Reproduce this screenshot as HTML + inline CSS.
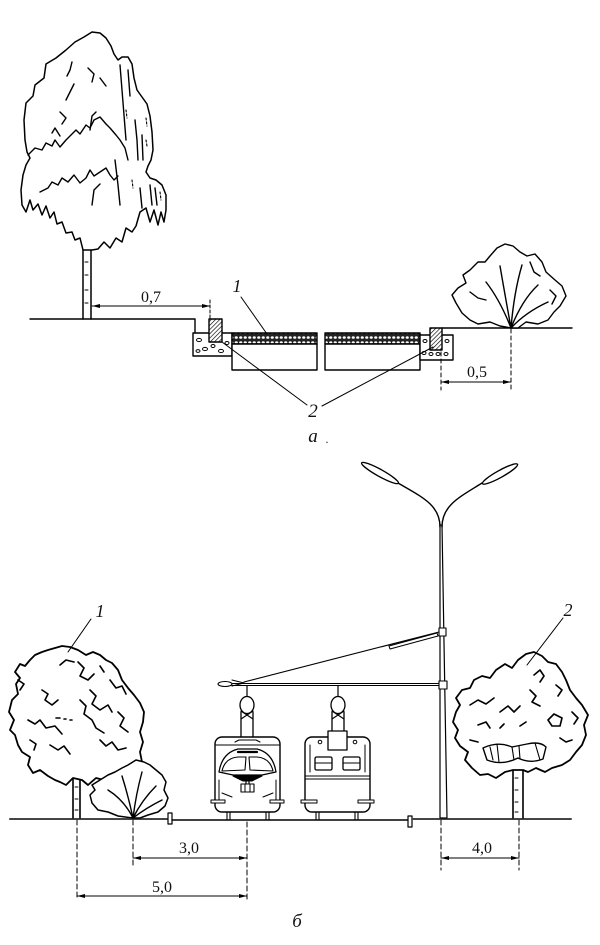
<!DOCTYPE html>
<html><head><meta charset="utf-8"><style>
html,body{margin:0;padding:0;background:#fff;}
svg{display:block;}
text{font-family:"Liberation Serif","DejaVu Serif",serif;fill:#111;}
.it{font-style:italic;}
</style></head><body>
<svg width="600" height="945" viewBox="0 0 600 945" xmlns="http://www.w3.org/2000/svg">
<defs>
<pattern id="hatch" width="3" height="3" patternUnits="userSpaceOnUse" patternTransform="rotate(45)">
<rect width="3" height="3" fill="#fff"/><line x1="0" y1="0" x2="0" y2="3" stroke="#000" stroke-width="1.3"/>
</pattern>
<pattern id="pave" width="4.5" height="5" patternUnits="userSpaceOnUse">
<rect width="4.5" height="5" fill="#222"/><ellipse cx="2.25" cy="2.5" rx="1.6" ry="1.3" fill="#fff"/>
</pattern>
</defs>
<g fill="none" stroke="#000" stroke-width="1.4" stroke-linejoin="round" stroke-linecap="round">

<!-- ===== TOP: birch tree ===== -->
<path fill="#fff" stroke-width="1.5" d="M83,250 L80,238 L75,240 L72,232 L66,233 L62,222 L57,224 L54,212 L50,218 L46,206 L42,215 L38,204 L33,210 L30,200 L26,212 L22,205 L21,190 L23,175 L26,165 L30,158 L27,152 L25,140 L24,120 L26,103 L33,96 L35,85 L44,78 L46,64 L56,58 L66,50 L75,42 L84,37 L92,32 L100,33 L106,38 L111,46 L114,54 L118,60 L122,57 L128,57 L132,64 L134,78 L137,90 L142,97 L147,104 L150,116 L152,132 L153,150 L151,160 L148,166 L146,172 L150,178 L156,180 L162,185 L166,195 L166,210 L164,222 L161,212 L158,225 L154,210 L150,222 L146,208 L140,212 L136,226 L132,232 L126,228 L122,242 L116,238 L110,248 L104,242 L98,249 L92,250 Z"/>
<path d="M28,155 L35,148 L42,150 L46,143 L52,146 L55,140 L60,147 L66,140 L72,134 L76,130 L80,134 L86,125 L90,128 L94,120 L100,117 L106,124 L110,128 L116,135 L120,140 L125,148 L128,160"/>
<path d="M40,192 L48,188 L52,182 L58,185 L62,178 L68,182 L74,175 L80,183 L86,178 L90,170 L94,176 L100,172 L106,168 L110,175 L114,180 L118,176"/>
<path d="M72,62 L70,70 L67,76 M66,100 L70,92 L74,84 M52,133 L55,128 L60,136 M90,130 L92,116 L96,112 M92,205 L94,190 L100,184 M120,65 L122,90 L124,115 L126,140 M128,70 L130,96 M135,120 L137,140 L138,160 M142,135 L143,160 M150,185 L152,205 M140,188 L142,208 M155,188 L157,205 M115,160 L118,185 L120,205 M88,68 L94,74 L92,82 M100,78 L106,86 M60,112 L66,118 L62,124"/>
<path d="M146,118 L147,126 M146,140 L147,146 M132,180 L133,188 M160,192 L161,200 M126,110 L127,118" stroke-width="1.1" stroke-dasharray="2,2"/>
<path d="M83,250 L83,319 M91,250 L91,319" stroke-width="1.5"/>
<path d="M85,262 L88,262 M85,275 L88,275 M85,290 L88,290 M85,303 L88,303" stroke-width="1"/>

<!-- ground and section -->
<path d="M30,319 L195,319 L195,333"/>
<rect x="193" y="333" width="39" height="23" fill="#fff"/>
<g stroke-width="1"><ellipse cx="199" cy="340" rx="2.5" ry="1.6"/><ellipse cx="205" cy="349" rx="2.5" ry="1.6"/><ellipse cx="213" cy="346" rx="2" ry="1.5"/><ellipse cx="221" cy="351" rx="2.5" ry="1.6"/><ellipse cx="227" cy="343" rx="2" ry="1.5"/><ellipse cx="198" cy="351" rx="2" ry="1.4"/></g>
<rect x="209" y="319" width="13" height="23" fill="url(#hatch)"/>
<rect x="232" y="333" width="85" height="11" fill="url(#pave)"/>
<rect x="232" y="344" width="85" height="26" fill="#fff"/>
<rect x="325" y="333" width="95" height="11" fill="url(#pave)"/>
<rect x="325" y="344" width="95" height="26" fill="#fff"/>
<rect x="420" y="335" width="33" height="25" fill="#fff"/>
<g stroke-width="1"><ellipse cx="425" cy="341" rx="2" ry="1.5"/><ellipse cx="447" cy="341" rx="2" ry="1.5"/><ellipse cx="424" cy="353" rx="2" ry="1.5"/><ellipse cx="431" cy="354" rx="2" ry="1.5"/><ellipse cx="438" cy="354" rx="2" ry="1.5"/><ellipse cx="446" cy="354" rx="2" ry="1.5"/></g>
<rect x="430" y="328" width="12" height="22" fill="url(#hatch)"/>
<path d="M442,328 L572,328"/>

<!-- leaders top -->
<path d="M241,297 L267,334" stroke-width="1"/>
<path d="M307,405 L222,342 M322,406 L433,347" stroke-width="1"/>

<!-- dim 0,7 -->
<path d="M92,306 L210,306" stroke-width="1"/>
<path d="M210,300 L210,318" stroke-width="1" stroke-dasharray="3,2"/>
<!-- dim 0,5 -->
<path d="M441,382 L511,382" stroke-width="1"/>
<path d="M441,352 L441,390 M511,329 L511,390" stroke-width="1" stroke-dasharray="4,3"/>

<!-- top right bush -->
<path fill="#fff" d="M511,328 L500,326 L490,322 L478,324 L470,320 L462,313 L456,303 L452,295 L458,288 L466,283 L463,275 L470,270 L478,262 L485,262 L490,256 L497,248 L505,244 L513,246 L520,252 L527,256 L535,254 L542,262 L546,272 L555,280 L562,286 L566,296 L560,306 L554,312 L548,320 L538,324 L526,322 L518,328 Z"/>
<path d="M511,328 Q500,300 486,282 M511,328 Q505,295 500,266 M511,328 Q514,292 522,265 M511,328 Q522,300 538,285 M511,328 Q526,312 548,302 M470,292 L478,298 L486,300 M530,262 L534,272 L540,276 M550,290 L556,296 L552,304"/>

<!-- ===== BOTTOM ===== -->
<!-- ground -->
<path d="M10,819 L168,819" stroke="#444" stroke-width="2" stroke-dasharray="3,1"/>
<rect x="168" y="813" width="4" height="11" fill="#fff" stroke-width="1.2"/>
<path d="M172,820 L408,820"/>
<rect x="408" y="816" width="4" height="11" fill="#fff" stroke-width="1.2"/>
<path d="M412,819 L572,819" stroke="#444" stroke-width="2" stroke-dasharray="3,1"/>

<!-- tree 1 -->
<path d="M73,765 L73,818 M80,765 L80,818" stroke-width="1.6"/>
<path d="M75,775 L78,775 M75,787 L78,787 M75,799 L78,799 M75,810 L78,810" stroke-width="1"/>
<path fill="#fff" stroke-width="1.8" d="M73,778 L66,785 L60,782 L55,780 L48,776 L40,770 L33,773 L28,765 L30,757 L22,752 L18,745 L15,735 L10,730 L14,720 L9,712 L12,700 L18,694 L16,684 L20,678 L15,672 L20,664 L25,666 L30,660 L35,655 L42,652 L48,650 L55,648 L62,646 L70,647 L78,650 L86,655 L93,652 L100,655 L106,660 L112,663 L118,670 L122,680 L128,688 L134,695 L140,703 L144,712 L143,722 L140,732 L143,742 L140,752 L142,762 L136,766 L128,770 L120,775 L112,778 L104,780 L96,778 L88,785 L82,780 Z"/>
<path stroke-width="1.6" d="M42,690 L48,694 L45,700 L52,705 L58,700 M28,720 L35,724 L40,720 L46,728 L55,726 L62,734 M78,662 L84,668 L80,676 L88,680 L94,674 M90,690 L96,696 L92,704 L100,710 L108,705 L112,712 M80,700 L86,706 L84,714 L92,720 L96,728 L104,733 M100,740 L106,746 L112,742 L118,750 L126,748 M50,745 L58,750 L64,746 L70,754 M110,680 L116,688 L122,686 L126,694 M60,665 L66,660 L74,662 M18,680 L24,684 L20,690 M56,718 L60,718 M64,719 L66,719 M70,720 L72,720 M118,712 L124,718 L120,726 L128,732 M100,666 L104,672 M30,740 L36,744 L34,750"/>
<path d="M91,619 L68,652" stroke-width="1"/>
<!-- bush -->
<path fill="#fff" stroke-width="1.5" d="M133,818 L118,816 L108,812 L98,810 L92,803 L90,795 L95,790 L92,785 L100,780 L108,775 L115,772 L122,768 L128,765 L136,760 L144,762 L150,765 L156,770 L162,775 L166,782 L164,790 L168,798 L165,806 L158,812 L148,815 L140,818 Z"/>
<path d="M133,818 Q124,800 108,790 M133,818 Q128,795 122,776 M133,818 Q136,794 142,772 M133,818 Q142,800 156,786 M133,818 Q146,808 162,800"/>

<!-- dims bottom -->
<path d="M77,820 L77,899 M133,820 L133,866 M247,822 L247,899 M441,820 L441,870 M519,820 L519,870" stroke-width="1" stroke-dasharray="5,3"/>
<path d="M133,858 L247,858 M77,896 L247,896 M441,858 L519,858" stroke-width="1"/>

<!-- pole -->
<path fill="#fff" stroke-width="1.2" d="M440,525 L442,525 L447,818 L440,818 Z"/>
<rect x="439" y="628" width="7" height="8" fill="#fff" stroke-width="1.1"/>
<rect x="439" y="681" width="8" height="8" fill="#fff" stroke-width="1.1"/>
<path d="M440,527 C440,505 422,497 398,483 M442,527 C442,505 460,497 482,483" stroke-width="1.4"/>
<ellipse cx="380" cy="473" rx="21" ry="3.5" transform="rotate(29 380 473)" fill="#fff" stroke-width="1.4"/>
<ellipse cx="500" cy="474" rx="20" ry="3.5" transform="rotate(-29 500 474)" fill="#fff" stroke-width="1.4"/>

<!-- catenary -->
<path d="M232,683.5 L439,683.5 M232,685.5 L439,685.5" stroke-width="1"/>
<ellipse cx="225" cy="684" rx="7" ry="2.5" fill="#fff" stroke-width="1.1"/>
<path d="M232,680 L244,683 L232,686" stroke-width="1"/>
<path d="M244,682 L439,632" stroke-width="1.1"/>
<path d="M389,646 L437,633 L438,636 L390,649 Z" fill="#fff" stroke-width="1"/>

<!-- left tram -->
<path d="M247,686 L247,697 M338,686 L338,697" stroke-width="1.2"/>
<ellipse cx="247" cy="705" rx="7" ry="8.5" fill="#fff" stroke-width="1.3"/>
<path d="M241,711 L253,719 M253,711 L241,719" stroke-width="1.1"/>
<path d="M241,712 L241,737 M253,712 L253,737" stroke-width="1.3"/>
<rect x="215" y="737" width="65" height="75" rx="7" fill="#fff" stroke-width="1.4"/>
<path d="M215,745 L280,745" stroke-width="1.1"/>
<path d="M235,742 L239,740 L256,740 L260,742" stroke-width="1.1"/>
<path d="M219,772 Q222,753 238,749 L257,749 Q273,753 276,772 L262,775 L233,775 Z" fill="#fff" stroke-width="1.3"/>
<path d="M222,771 Q225,758 238,757 L246,757 L245,770 Z M273,771 Q270,758 257,757 L249,757 L250,770 Z" stroke-width="1.1"/>
<path d="M238,752 L257,752" stroke-width="2.2"/>
<path d="M233,776 L262,776 L252,781 L243,781 Z" fill="#000" stroke-width="1"/>
<path d="M246,781 L246,785 M249,781 L249,785" stroke-width="1.2"/>
<rect x="241" y="784" width="13" height="8" fill="#fff" stroke-width="1.1"/>
<path d="M245,784 L245,792 M250,784 L250,792" stroke-width="1"/>
<path d="M219,780 L219,800 M276,780 L276,800 M222,793 L232,797 M273,793 L263,797" stroke-width="1"/>
<rect x="211" y="800" width="14" height="3" fill="#fff" stroke-width="1"/>
<rect x="270" y="800" width="14" height="3" fill="#fff" stroke-width="1"/>
<path d="M227,812 L227,820 M230,812 L230,820 M266,812 L266,820 M269,812 L269,820" stroke-width="1.1"/>

<!-- right tram -->
<ellipse cx="338" cy="705" rx="7" ry="8.5" fill="#fff" stroke-width="1.3"/>
<path d="M332,711 L344,719 M344,711 L332,719" stroke-width="1.1"/>
<path d="M332,712 L332,732 M344,712 L344,732" stroke-width="1.3"/>
<rect x="305" y="737" width="65" height="75" rx="7" fill="#fff" stroke-width="1.4"/>
<rect x="328" y="731" width="19" height="19" fill="#fff" stroke-width="1.3"/>
<circle cx="320" cy="742" r="1.8" stroke-width="1"/>
<circle cx="355" cy="742" r="1.8" stroke-width="1"/>
<rect x="315" y="757" width="17" height="13" rx="1.5" stroke-width="1.3"/>
<path d="M315,763 L332,763" stroke-width="1"/>
<rect x="343" y="757" width="17" height="13" rx="1.5" stroke-width="1.3"/>
<path d="M343,763 L360,763" stroke-width="1"/>
<path d="M310,745 L310,772 M365,745 L365,772" stroke-width="1"/>
<path d="M305,776 L370,776 M305,779 L370,779" stroke-width="1"/>
<rect x="301" y="800" width="16" height="3" fill="#fff" stroke-width="1"/>
<rect x="358" y="800" width="16" height="3" fill="#fff" stroke-width="1"/>
<path d="M316,812 L316,820 M319,812 L319,820 M355,812 L355,820 M358,812 L358,820" stroke-width="1.1"/>

<!-- tree 2 -->
<path d="M513,765 L513,818 M523,765 L523,818" stroke-width="1.6"/>
<path d="M515,778 L518,778 M515,790 L518,790 M515,802 L518,802 M515,812 L518,812" stroke-width="1"/>
<path fill="#fff" stroke-width="1.8" d="M513,770 L505,772 L496,778 L488,774 L480,775 L472,768 L465,760 L468,752 L460,746 L455,738 L458,730 L453,722 L456,712 L460,705 L456,698 L462,690 L470,688 L474,680 L482,676 L490,678 L496,670 L505,664 L512,668 L518,660 L526,654 L534,652 L542,656 L548,662 L556,664 L562,672 L566,680 L570,690 L576,698 L582,705 L588,715 L584,725 L586,735 L582,745 L576,752 L570,760 L562,765 L552,768 L545,772 L536,768 L528,772 L523,770 Z"/>
<path fill="#fff" stroke-width="1.4" d="M483,748 Q498,741 512,747 L527,744 Q540,741 546,747 L543,759 Q530,764 518,758 Q502,766 487,760 Z"/>
<path d="M490,747 L493,760 M497,744 L499,762 M512,747 L514,760 M519,746 L520,759 M535,743 L540,760" stroke-width="1.1"/>
<path stroke-width="1.6" d="M470,705 L478,700 L486,704 L494,698 M500,712 L508,706 L514,712 L520,706 M530,690 L536,696 L532,702 L540,706 M548,720 L554,714 L562,718 L560,726 L552,726 Z M478,725 L486,722 L490,728 M520,726 L526,722 M500,728 L504,724 M556,685 L562,690 L558,696 M534,675 L540,670 L544,676 L540,682 M470,740 L478,742 M560,738 L566,742 L572,740 M572,712 L578,718 L574,724"/>
<path d="M563,618 L527,665" stroke-width="1"/>
</g>

<!-- arrowheads -->
<g fill="#000">
<polygon points="92,306 100,304 100,308"/><polygon points="210,306 202,304 202,308"/>
<polygon points="441,382 449,380 449,384"/><polygon points="511,382 503,380 503,384"/>
<polygon points="133,858 141,856 141,860"/><polygon points="247,858 239,856 239,860"/>
<polygon points="77,896 85,894 85,898"/><polygon points="247,896 239,894 239,898"/>
<polygon points="441,858 449,856 449,860"/><polygon points="519,858 511,856 511,860"/>
</g>

<!-- labels -->
<text x="151" y="302" font-size="16" text-anchor="middle">0,7</text>
<text x="477" y="377" font-size="16" text-anchor="middle">0,5</text>
<text x="237" y="292" font-size="18" class="it" text-anchor="middle">1</text>
<text x="313" y="417" font-size="19" class="it" text-anchor="middle">2</text>
<text x="313" y="442" font-size="19" class="it" text-anchor="middle">a</text>
<text x="327" y="443" font-size="12" text-anchor="middle">.</text>
<text x="100" y="617" font-size="18" class="it" text-anchor="middle">1</text>
<text x="568" y="616" font-size="18" class="it" text-anchor="middle">2</text>
<text x="189" y="853" font-size="16" text-anchor="middle">3,0</text>
<text x="162" y="892" font-size="16" text-anchor="middle">5,0</text>
<text x="482" y="853" font-size="16" text-anchor="middle">4,0</text>
<text x="297" y="927" font-size="19" class="it" text-anchor="middle">б</text>
</svg>
</body></html>
